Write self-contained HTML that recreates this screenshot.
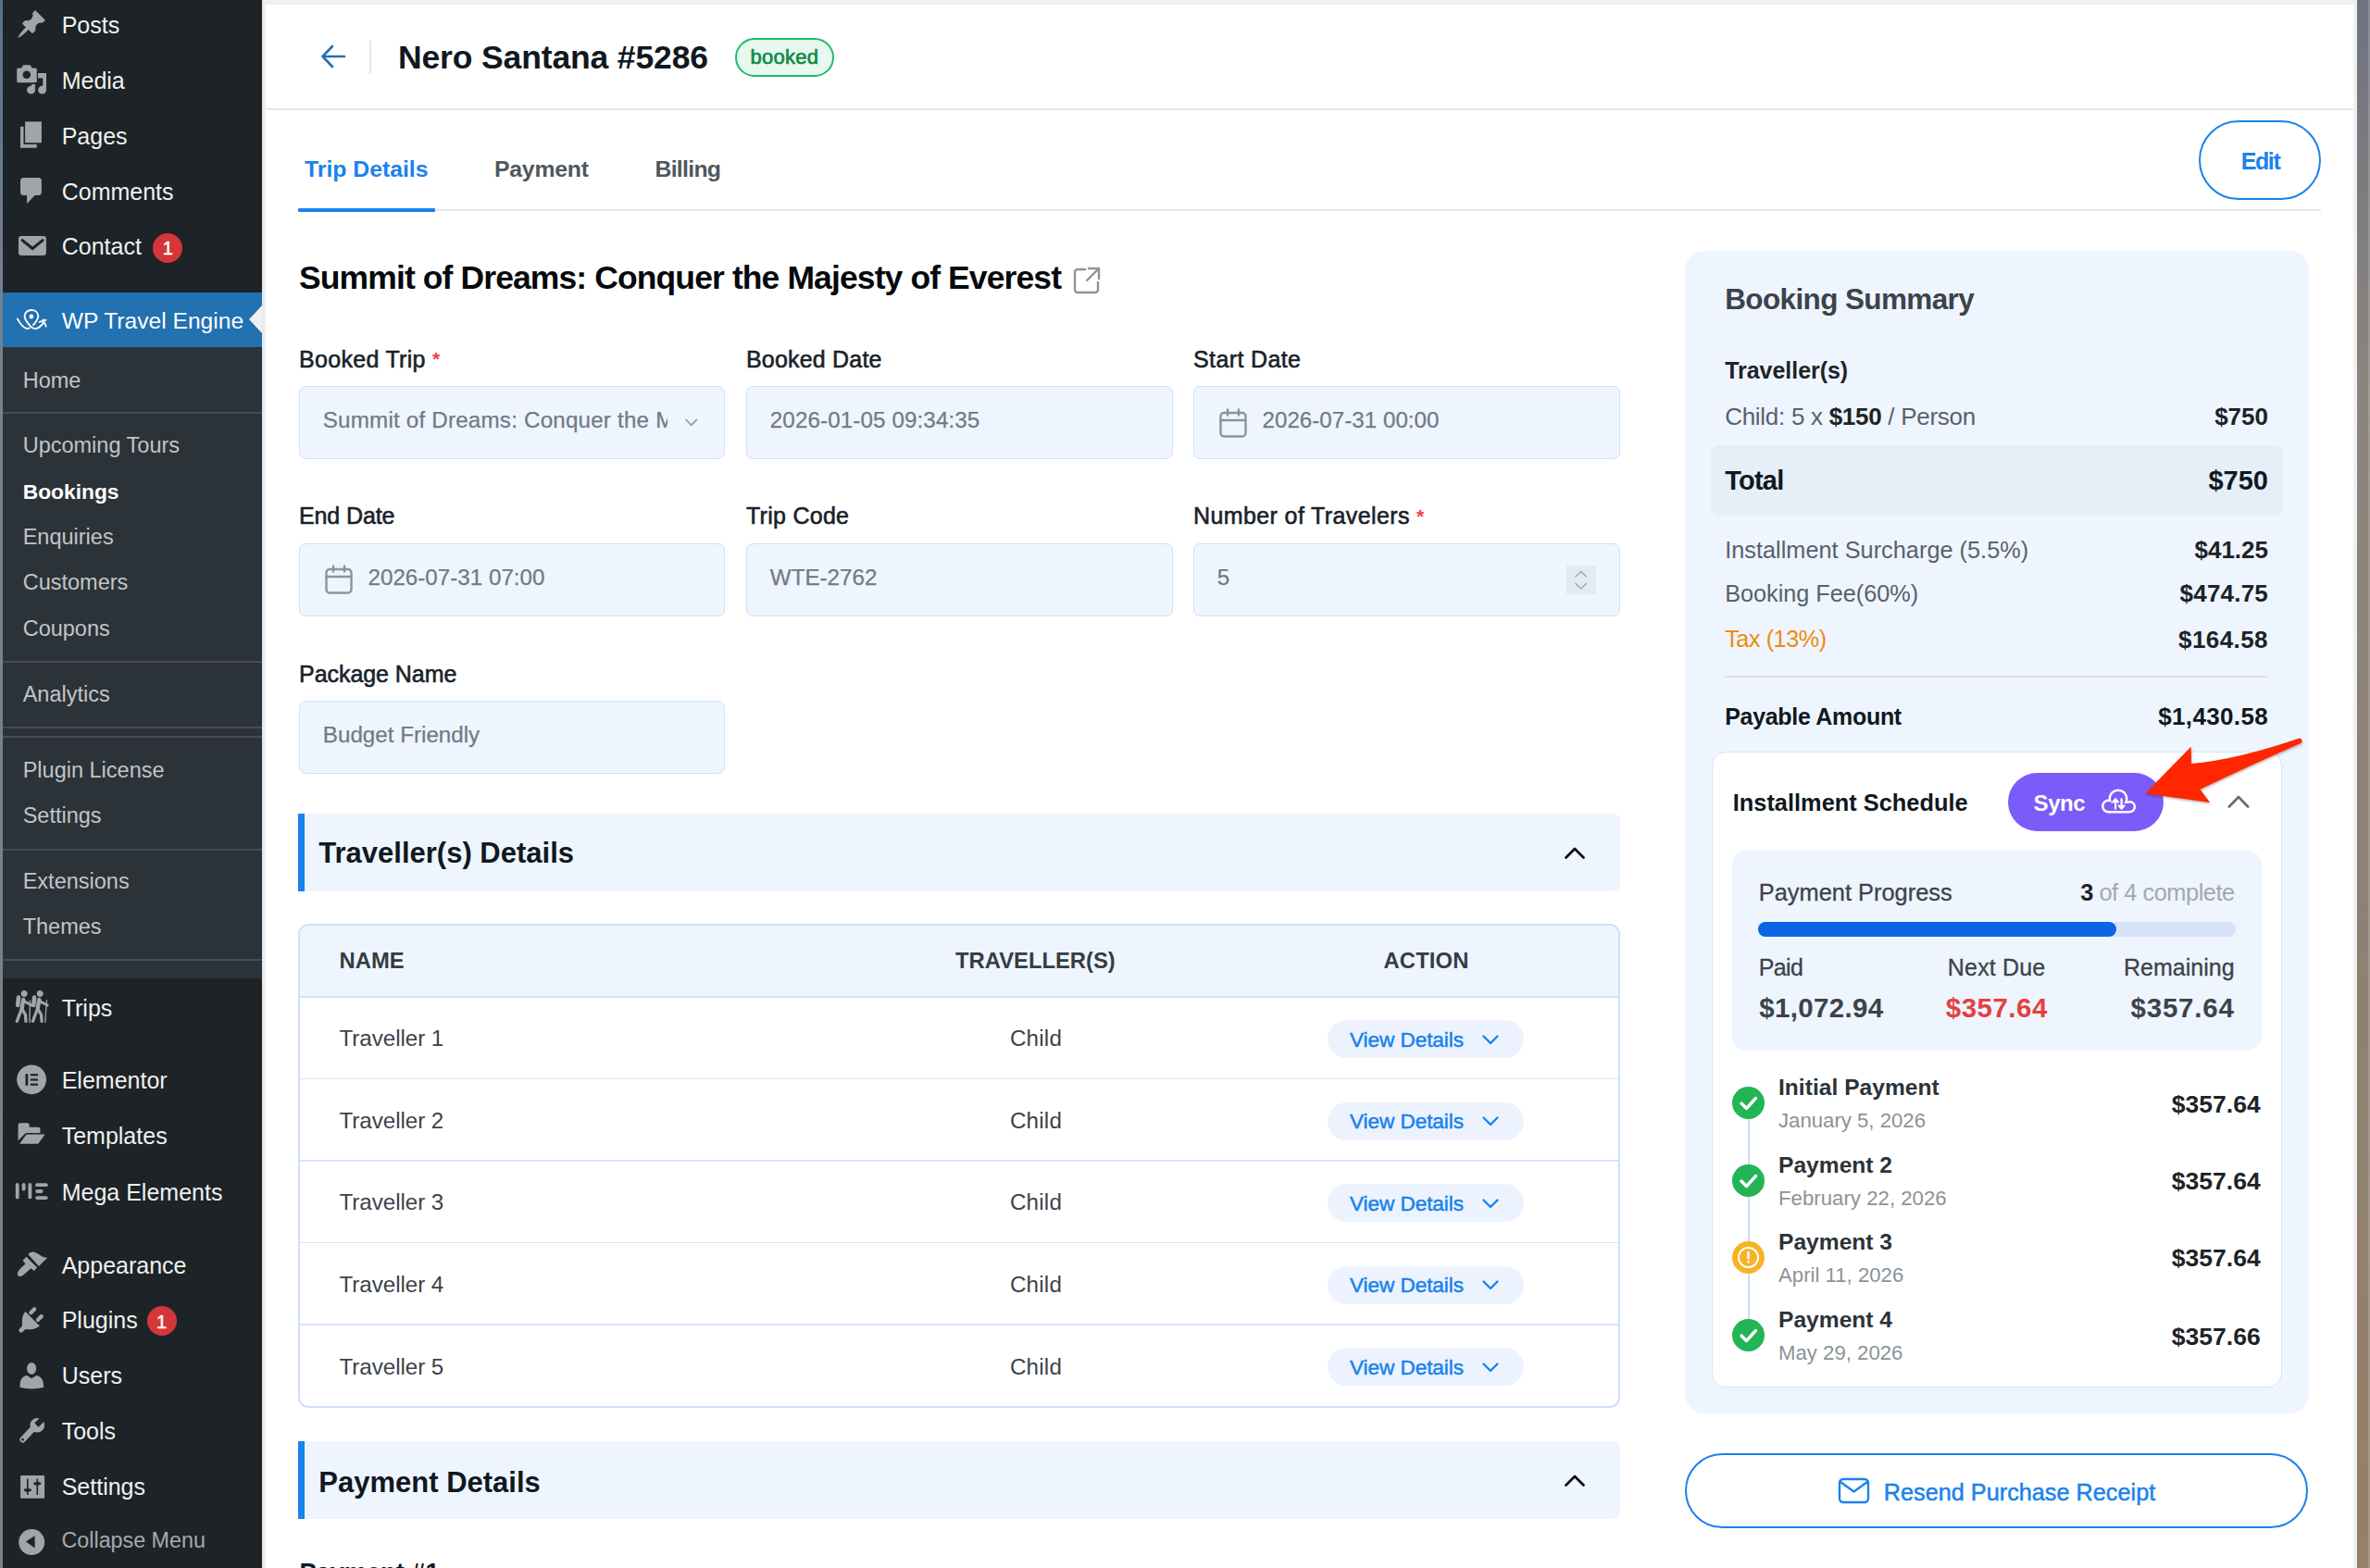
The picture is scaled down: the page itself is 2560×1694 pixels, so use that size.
<!DOCTYPE html>
<html><head><meta charset="utf-8"><title>Booking</title>
<style>
html,body{margin:0;padding:0;}
body{width:2560px;height:1694px;overflow:hidden;position:relative;background:#f0f0f1;font-family:"Liberation Sans", sans-serif;-webkit-font-smoothing:antialiased;}
.t{position:absolute;white-space:nowrap;line-height:1;}
.r{position:absolute;}
b{font-weight:700;}
</style></head><body>
<div class="r" style="left:0px;top:0px;width:3px;height:1694px;background:linear-gradient(#5a708a,#74808e 18%,#7a8088)"></div>
<div class="r" style="left:3px;top:0px;width:280px;height:1694px;background:#1d2327"></div>
<div class="r" style="left:283px;top:0px;width:4px;height:1694px;background:linear-gradient(90deg,#e6e6e7,#f3f3f4)"></div>
<div class="r" style="left:2546px;top:0px;width:14px;height:1694px;background:linear-gradient(#6f7382 0%,#7b7a7e 10%,#8a857e 25%,#8d8276 50%,#958069 100%)"></div>
<div class="r" style="left:2558px;top:0px;width:2px;height:1694px;background:rgba(255,255,255,.18)"></div>
<div class="r" style="left:287px;top:5px;width:2255px;height:1689px;background:#fff"></div>
<div class="r" style="left:3px;top:316px;width:280px;height:59px;background:#2271b1"></div>
<svg class="r" style="left:269px;top:330px;" width="14" height="30" viewBox="0 0 14 30"><polygon points="14,0 0,15 14,30" fill="#f0f0f1"/></svg>
<div class="r" style="left:3px;top:375px;width:280px;height:682px;background:#2c3338"></div>
<div class="r" style="left:3px;top:445px;width:280px;height:2px;background:#464c52"></div>
<div class="r" style="left:3px;top:714px;width:280px;height:2px;background:#464c52"></div>
<div class="r" style="left:3px;top:785px;width:280px;height:2px;background:#464c52"></div>
<div class="r" style="left:3px;top:795px;width:280px;height:2px;background:#464c52"></div>
<div class="r" style="left:3px;top:917px;width:280px;height:2px;background:#464c52"></div>
<div class="r" style="left:3px;top:1036px;width:280px;height:2px;background:#464c52"></div>
<div class="t" style="top:14.94px;font-size:25px;font-weight:400;color:#f0f0f1;left:66.70px;">Posts</div>
<div class="t" style="top:74.64px;font-size:25px;font-weight:400;color:#f0f0f1;left:66.70px;">Media</div>
<div class="t" style="top:135.44px;font-size:25px;font-weight:400;color:#f0f0f1;left:66.70px;">Pages</div>
<div class="t" style="top:194.84px;font-size:25px;font-weight:400;color:#f0f0f1;left:66.70px;">Comments</div>
<div class="t" style="top:254.24px;font-size:25px;font-weight:400;color:#f0f0f1;left:66.70px;">Contact</div>
<div class="t" style="top:334.58px;font-size:24.6px;font-weight:400;color:#fff;left:66.70px;">WP Travel Engine</div>
<div class="t" style="top:399.51px;font-size:23.5px;font-weight:400;color:#c3c4c7;left:24.70px;">Home</div>
<div class="t" style="top:470.31px;font-size:23.5px;font-weight:400;color:#c3c4c7;left:24.70px;">Upcoming Tours</div>
<div class="t" style="top:520.20px;font-size:22.8px;font-weight:700;color:#fff;left:24.70px;">Bookings</div>
<div class="t" style="top:568.91px;font-size:23.5px;font-weight:400;color:#c3c4c7;left:24.70px;">Enquiries</div>
<div class="t" style="top:618.21px;font-size:23.5px;font-weight:400;color:#c3c4c7;left:24.70px;">Customers</div>
<div class="t" style="top:667.51px;font-size:23.5px;font-weight:400;color:#c3c4c7;left:24.70px;">Coupons</div>
<div class="t" style="top:738.61px;font-size:23.5px;font-weight:400;color:#c3c4c7;left:24.70px;">Analytics</div>
<div class="t" style="top:820.61px;font-size:23.5px;font-weight:400;color:#c3c4c7;left:24.70px;">Plugin License</div>
<div class="t" style="top:870.11px;font-size:23.5px;font-weight:400;color:#c3c4c7;left:24.70px;">Settings</div>
<div class="t" style="top:940.71px;font-size:23.5px;font-weight:400;color:#c3c4c7;left:24.70px;">Extensions</div>
<div class="t" style="top:990.11px;font-size:23.5px;font-weight:400;color:#c3c4c7;left:24.70px;">Themes</div>
<div class="t" style="top:1076.94px;font-size:25px;font-weight:400;color:#f0f0f1;left:66.70px;">Trips</div>
<div class="t" style="top:1155.44px;font-size:25px;font-weight:400;color:#f0f0f1;left:66.70px;">Elementor</div>
<div class="t" style="top:1215.04px;font-size:25px;font-weight:400;color:#f0f0f1;left:66.70px;">Templates</div>
<div class="t" style="top:1275.84px;font-size:25px;font-weight:400;color:#f0f0f1;left:66.70px;">Mega Elements</div>
<div class="t" style="top:1354.84px;font-size:25px;font-weight:400;color:#f0f0f1;left:66.70px;">Appearance</div>
<div class="t" style="top:1414.44px;font-size:25px;font-weight:400;color:#f0f0f1;left:66.70px;">Plugins</div>
<div class="t" style="top:1474.14px;font-size:25px;font-weight:400;color:#f0f0f1;left:66.70px;">Users</div>
<div class="t" style="top:1533.84px;font-size:25px;font-weight:400;color:#f0f0f1;left:66.70px;">Tools</div>
<div class="t" style="top:1594.44px;font-size:25px;font-weight:400;color:#f0f0f1;left:66.70px;">Settings</div>
<div class="t" style="top:1653.48px;font-size:23.3px;font-weight:400;color:#a7aaad;left:66.50px;">Collapse Menu</div>
<div class="r" style="left:165.4px;top:251.5px;width:32.0px;height:32.0px;background:#d63638;border-radius:50%"></div>
<div class="t" style="top:258.07px;font-size:20px;font-weight:400;color:#fff;left:-418.60px;width:1200px;text-align:center;-webkit-text-stroke:0.5px #fff;">1</div>
<div class="r" style="left:158.5px;top:1411.4px;width:32.0px;height:32.0px;background:#d63638;border-radius:50%"></div>
<div class="t" style="top:1417.97px;font-size:20px;font-weight:400;color:#fff;left:-425.50px;width:1200px;text-align:center;-webkit-text-stroke:0.5px #fff;">1</div>
<svg class="r" style="left:0px;top:5px" width="60" height="43" viewBox="0 5 60 43"><path fill="#a0a5aa" d="M38.1 11.1 L49 21.9 L45.4 24.8 Q40.5 23.5 38.3 29.2 L38.3 33.1 L34.9 36.3 L30.6 32.1 Q25 38.5 19.2 41.2 Q21.5 35.5 27.9 29.6 L23.9 25.4 L27.2 21.9 Q33.5 24 35.6 16.5 L34.9 14.3 Z"/></svg>
<svg class="r" style="left:0px;top:66px" width="60" height="38" viewBox="0 66 60 38"><g fill="#a0a5aa"><path d="M19.8 73.6 H23.1 L25.2 70.2 H32.6 L34.6 73.6 H38.2 A1.6 1.6 0 0 1 39.8 75.2 V87.6 A1.6 1.6 0 0 1 38.2 89.2 H19.8 A1.6 1.6 0 0 1 18.2 87.6 V75.2 A1.6 1.6 0 0 1 19.8 73.6 Z"/><rect x="41" y="79" width="9" height="5.4"/><rect x="46.3" y="79" width="3.7" height="18"/><circle cx="45.6" cy="97.2" r="4.4"/><rect x="34.1" y="91" width="3.8" height="6"/><circle cx="33.5" cy="97.2" r="4.4"/></g><circle cx="28.8" cy="80.8" r="4.3" fill="#1d2327"/></svg>
<svg class="r" style="left:0px;top:128px" width="60" height="35" viewBox="0 128 60 35"><g fill="#a0a5aa"><rect x="27.1" y="131.4" width="17.8" height="22.9"/><path d="M22 136.8 H25.5 V156 H39.7 V159.8 H22 Z"/></g></svg>
<svg class="r" style="left:0px;top:188px" width="60" height="36" viewBox="0 188 60 36"><path fill="#a0a5aa" d="M25.5 192 H41.4 A3.5 3.5 0 0 1 44.9 195.5 V207.6 A3.5 3.5 0 0 1 41.4 211.1 H37.7 L29.1 220 V211.1 H25.5 A3.5 3.5 0 0 1 22 207.6 V195.5 A3.5 3.5 0 0 1 25.5 192 Z"/></svg>
<svg class="r" style="left:0px;top:250px" width="60" height="30" viewBox="0 250 60 30"><rect x="20" y="255" width="29.9" height="21.1" rx="3" fill="#a0a5aa"/><path d="M24.2 259.6 L35.1 268.5 L46.1 259.6" fill="none" stroke="#1d2327" stroke-width="3.1" stroke-linecap="round" stroke-linejoin="miter"/></svg>
<svg class="r" style="left:0px;top:330px" width="60" height="32" viewBox="0 330 60 32"><g fill="none" stroke="#fff" stroke-width="1.9" stroke-linecap="round" stroke-linejoin="round"><path d="M36 351 C39.2 347.5 41.4 344.8 41.3 341.4 C41.1 337.3 37.8 335 33.9 335 C30 335 26.6 337.5 26.6 341.6 C26.6 345.5 30 349.3 33 352.6 C35 354.6 37.2 355.6 39.4 354.9 C42.3 354 45 351.3 47.3 348.3"/><path d="M18.9 344.6 C21.2 348.6 24.5 353.4 28 354.7 C29.4 355.2 30.6 355 31.7 354.5"/><path d="M42.6 347.9 L49.6 345.6 M46.6 345.4 L49.8 352.6" stroke-width="1.7"/></g><circle cx="33.9" cy="342" r="2.4" fill="#fff"/></svg>
<svg class="r" style="left:0px;top:1066px" width="60" height="44" viewBox="0 1066 60 44"><g fill="#a0a5aa" stroke="#a0a5aa" stroke-linecap="round" stroke-linejoin="round"><circle cx="26.1" cy="1073.5" r="3.1"/><line x1="20.0" y1="1077.6" x2="19.2" y2="1086" stroke-width="4.6"/><line x1="25.2" y1="1080" x2="23.6" y2="1090" stroke-width="4.4"/><line x1="26.8" y1="1082.2" x2="34.1" y2="1086" stroke-width="3"/><line x1="22.8" y1="1091.5" x2="18.3" y2="1103.3" stroke-width="3.3"/><polyline points="24.4,1091.2 27.4,1096.2 28.0,1103.3" fill="none" stroke-width="3.3"/><circle cx="43.2" cy="1073.5" r="3.1"/><line x1="37.1" y1="1077.6" x2="36.3" y2="1086" stroke-width="4.6"/><line x1="42.3" y1="1080" x2="40.7" y2="1090" stroke-width="4.4"/><line x1="43.9" y1="1082.2" x2="51.2" y2="1086" stroke-width="3"/><line x1="39.9" y1="1091.5" x2="35.4" y2="1103.3" stroke-width="3.3"/><polyline points="41.5,1091.2 44.5,1096.2 45.1,1103.3" fill="none" stroke-width="3.3"/><line x1="32.4" y1="1081.3" x2="32" y2="1104.4" stroke-width="1.4"/><line x1="50.5" y1="1080.6" x2="48.8" y2="1104.4" stroke-width="1.3"/></g></svg>
<svg class="r" style="left:0px;top:1148px" width="60" height="37" viewBox="0 1148 60 37"><circle cx="34.1" cy="1166.3" r="15.9" fill="#a0a5aa"/><g fill="#1d2327"><rect x="27.5" y="1160.1" width="2.8" height="12.7"/><rect x="32.8" y="1160.1" width="8.1" height="2.2"/><rect x="32.8" y="1165.4" width="8.1" height="2.2"/><rect x="32.8" y="1170.6" width="8.1" height="2.2"/></g></svg>
<svg class="r" style="left:0px;top:1210px" width="60" height="30" viewBox="0 1210 60 30"><g fill="#a0a5aa"><path d="M19.6 1232.2 V1215.6 A2.3 2.3 0 0 1 21.9 1213.3 H29.4 A2.3 2.3 0 0 1 31.7 1215.6 V1217.8 H41.2 A2.3 2.3 0 0 1 43.5 1220.1 V1223.9 H29 A3 3 0 0 0 26.8 1225 Z"/><path d="M29.8 1225.5 H48.6 L42 1234.8 A2.2 2.2 0 0 1 40.2 1235.7 H21.2 L27.8 1226.4 A2.2 2.2 0 0 1 29.8 1225.5 Z"/></g></svg>
<svg class="r" style="left:0px;top:1274px" width="60" height="26" viewBox="0 1274 60 26"><g stroke="#a0a5aa" stroke-linecap="round" stroke-width="3.8"><line x1="18.7" y1="1280" x2="18.7" y2="1293.4"/><line x1="25.6" y1="1280" x2="25.6" y2="1284.6"/><line x1="32.4" y1="1280" x2="32.4" y2="1293.4"/><line x1="40.1" y1="1280.2" x2="49.8" y2="1280.2"/><line x1="40.1" y1="1287" x2="44.7" y2="1287"/><line x1="40.1" y1="1294.1" x2="49.8" y2="1294.1"/></g></svg>
<svg class="r" style="left:0px;top:1348px" width="60" height="34" viewBox="0 1348 60 34"><g fill="#a0a5aa"><path d="M30.3 1355.1 Q32.5 1351.6 36.5 1352.6 Q40 1353.8 44 1356.6 Q47.5 1358.9 51.3 1358.8 L41.9 1367.9 Z"/><path d="M28.5 1357.8 L40.2 1369.5 L36.6 1373.1 L33.6 1370.2 Q31.6 1371.5 27.6 1375.4 Q22 1380.5 19.5 1378.2 Q17.2 1375.8 22 1370.5 Q26 1366.6 27.4 1365.4 L24.6 1361.7 Z"/></g></svg>
<svg class="r" style="left:0px;top:1408px" width="60" height="34" viewBox="0 1408 60 34"><g fill="#a0a5aa"><path d="M27.5 1417 L42.9 1432.6 Q38 1436.6 31.5 1436.2 L27.6 1436 L24.6 1438.8 A2.4 2.4 0 0 1 21.1 1435.4 L23.9 1432.4 L24 1428 Q23.7 1420.5 27.5 1417 Z"/><rect x="33.2" y="1411.4" width="4.2" height="9.6" rx="2" transform="rotate(45 35.3 1416.2)"/><rect x="40.8" y="1419.2" width="4.2" height="9.6" rx="2" transform="rotate(45 42.9 1424)"/></g></svg>
<svg class="r" style="left:0px;top:1468px" width="60" height="36" viewBox="0 1468 60 36"><g fill="#a0a5aa"><ellipse cx="34.1" cy="1478.4" rx="5" ry="6.4"/><path d="M21.6 1498.8 C21 1490 24.8 1486.6 29.2 1486 L34.1 1489.2 L39.2 1486 C43.5 1486.6 47.4 1490 47.1 1498.8 C39 1501 30 1501 21.6 1498.8 Z"/></g></svg>
<svg class="r" style="left:0px;top:1528px" width="60" height="34" viewBox="0 1528 60 34"><circle cx="40.3" cy="1539.7" r="7.8" fill="#a0a5aa"/><path fill="#1d2327" d="M37.3 1537.6 L41.6 1541.7 L50.5 1532.8 L46.2 1528.6 Z"/><line x1="35.3" y1="1543.8" x2="24.6" y2="1555.2" stroke="#a0a5aa" stroke-width="6.5" stroke-linecap="round"/><circle cx="24.5" cy="1555.3" r="1.4" fill="#1d2327"/></svg>
<svg class="r" style="left:0px;top:1590px" width="60" height="32" viewBox="0 1590 60 32"><rect x="22.1" y="1594" width="26" height="24.7" rx="1.2" fill="#a0a5aa"/><g fill="#1d2327"><rect x="29" y="1597.6" width="1.6" height="17.4"/><ellipse cx="29.8" cy="1609.7" rx="4.2" ry="1.8"/><rect x="39.5" y="1597.6" width="1.6" height="17.4"/><ellipse cx="40.3" cy="1602.8" rx="4.2" ry="1.8"/></g></svg>
<svg class="r" style="left:0px;top:1650px" width="60" height="32" viewBox="0 1650 60 32"><circle cx="34.2" cy="1666.1" r="14" fill="#a0a5aa"/><polygon points="27.9,1665.6 37.6,1659.2 37.6,1672.4" fill="#1d2327"/></svg>
<svg class="r" style="left:346px;top:47px;" width="28" height="28" viewBox="0 0 28 28"><g fill="none" stroke="#2271b1" stroke-width="2.6" stroke-linecap="round" stroke-linejoin="round"><path d="M26 14 H3"/><path d="M13 3 L2.5 14 L13 25"/></g></svg>
<div class="r" style="left:399px;top:44px;width:2px;height:35px;background:#e2e4e7"></div>
<div class="t" style="top:44.95px;font-size:35.5px;font-weight:700;color:#101820;left:430.00px;letter-spacing:-0.143px;">Nero Santana #5286</div>
<div class="r" style="left:794px;top:40.5px;width:106.5px;height:42.0px;border:2px solid #1fbb6b;background:#e7f8ef;border-radius:21px;box-sizing:border-box"></div>
<div class="t" style="top:51.18px;font-size:22px;font-weight:400;color:#0d8a47;left:247.30px;width:1200px;text-align:center;letter-spacing:0.263px;-webkit-text-stroke:0.65px #0d8a47;">booked</div>
<div class="r" style="left:287px;top:117px;width:2255px;height:2px;background:#e6e8eb"></div>
<div class="t" style="top:170.71px;font-size:24.8px;font-weight:700;color:#1a82ec;left:329.00px;letter-spacing:-0.016px;">Trip Details</div>
<div class="t" style="top:170.71px;font-size:24.8px;font-weight:700;color:#50575e;left:534.00px;letter-spacing:-0.229px;">Payment</div>
<div class="t" style="top:170.71px;font-size:24.8px;font-weight:700;color:#50575e;left:707.50px;letter-spacing:-0.711px;">Billing</div>
<div class="r" style="left:322px;top:226px;width:2185px;height:2px;background:#e6e8eb"></div>
<div class="r" style="left:322px;top:225px;width:148px;height:4px;background:#1a82ec;border-radius:1px"></div>
<div class="r" style="left:2375px;top:130px;width:132px;height:86px;border:2px solid #1a82ec;border-radius:43px;box-sizing:border-box"></div>
<div class="t" style="top:161.84px;font-size:25px;font-weight:700;color:#1a82ec;left:1841.50px;width:1200px;text-align:center;letter-spacing:-1.406px;">Edit</div>
<div class="t" style="top:282.55px;font-size:35.5px;font-weight:700;color:#06090c;left:323.00px;letter-spacing:-0.894px;">Summit of Dreams: Conquer the Majesty of Everest</div>
<svg class="r" style="left:1159px;top:287px;" width="31" height="31" viewBox="0 0 31 31"><g fill="none" stroke="#8c9599" stroke-width="2.4" stroke-linecap="round" stroke-linejoin="round"><path d="M13 4 H5 a3 3 0 0 0 -3 3 V26 a3 3 0 0 0 3 3 H24 a3 3 0 0 0 3 -3 V18"/><path d="M17 3 H28 V14"/><path d="M28 3 L15 16"/></g></svg>
<div class="t" style="top:375.64px;font-size:25px;font-weight:400;color:#1a1f2b;left:323.00px;letter-spacing:0.308px;-webkit-text-stroke:0.6px #1a1f2b;">Booked Trip</div>
<div class="t" style="top:377.02px;font-size:21px;font-weight:700;color:#ef3e3c;left:467.00px;">*</div>
<div class="t" style="top:375.64px;font-size:25px;font-weight:400;color:#1a1f2b;left:806.00px;letter-spacing:0.195px;-webkit-text-stroke:0.6px #1a1f2b;">Booked Date</div>
<div class="t" style="top:375.64px;font-size:25px;font-weight:400;color:#1a1f2b;left:1289.00px;letter-spacing:0.382px;-webkit-text-stroke:0.6px #1a1f2b;">Start Date</div>
<div class="r" style="left:322.5px;top:417px;width:460.5px;height:78.5px;background:#eef5ff;border:1.5px solid #cfe0f8;border-radius:7px;box-sizing:border-box"></div>
<div class="t" style="top:442.31px;font-size:24.2px;font-weight:400;color:#6f7b83;left:348.80px;letter-spacing:0.193px;-webkit-text-stroke:0.25px #6f7b83;width:372.3px;clip-path:inset(-6px 0px -6px -6px);">Summit of Dreams: Conquer the M</div>
<svg class="r" style="left:738px;top:450px;" width="18" height="12" viewBox="0 0 18 12"><path d="M3 3.4 L8.75 9.4 L14.5 3.4" fill="none" stroke="#959da4" stroke-width="1.6" stroke-linecap="round" stroke-linejoin="round"/></svg>
<div class="r" style="left:805.5px;top:417px;width:461.0px;height:78.5px;background:#eef5ff;border:1.5px solid #cfe0f8;border-radius:7px;box-sizing:border-box"></div>
<div class="t" style="top:442.31px;font-size:24.2px;font-weight:400;color:#6f7b83;left:831.80px;letter-spacing:0.105px;-webkit-text-stroke:0.25px #6f7b83;">2026-01-05 09:34:35</div>
<div class="r" style="left:1288.5px;top:417px;width:461.0px;height:78.5px;background:#eef5ff;border:1.5px solid #cfe0f8;border-radius:7px;box-sizing:border-box"></div>
<div class="t" style="top:442.31px;font-size:24.2px;font-weight:400;color:#6f7b83;left:1363.50px;-webkit-text-stroke:0.25px #6f7b83;">2026-07-31 00:00</div>
<div class="t" style="top:545.24px;font-size:25px;font-weight:400;color:#1a1f2b;left:323.00px;letter-spacing:-0.121px;-webkit-text-stroke:0.6px #1a1f2b;">End Date</div>
<div class="t" style="top:545.24px;font-size:25px;font-weight:400;color:#1a1f2b;left:806.00px;letter-spacing:0.270px;-webkit-text-stroke:0.6px #1a1f2b;">Trip Code</div>
<div class="t" style="top:545.24px;font-size:25px;font-weight:400;color:#1a1f2b;left:1289.00px;letter-spacing:0.391px;-webkit-text-stroke:0.6px #1a1f2b;">Number of Travelers</div>
<div class="t" style="top:546.62px;font-size:21px;font-weight:700;color:#ef3e3c;left:1530.00px;">*</div>
<div class="r" style="left:322.5px;top:586.5px;width:460.5px;height:79.0px;background:#eef5ff;border:1.5px solid #cfe0f8;border-radius:7px;box-sizing:border-box"></div>
<div class="t" style="top:611.81px;font-size:24.2px;font-weight:400;color:#6f7b83;left:397.50px;-webkit-text-stroke:0.25px #6f7b83;">2026-07-31 07:00</div>
<div class="r" style="left:805.5px;top:586.5px;width:461.0px;height:79.0px;background:#eef5ff;border:1.5px solid #cfe0f8;border-radius:7px;box-sizing:border-box"></div>
<div class="t" style="top:611.81px;font-size:24.2px;font-weight:400;color:#6f7b83;left:831.80px;-webkit-text-stroke:0.25px #6f7b83;">WTE-2762</div>
<div class="r" style="left:1288.5px;top:586.5px;width:461.0px;height:79.0px;background:#eef5ff;border:1.5px solid #cfe0f8;border-radius:7px;box-sizing:border-box"></div>
<div class="t" style="top:611.81px;font-size:24.2px;font-weight:400;color:#6f7b83;left:1314.80px;-webkit-text-stroke:0.25px #6f7b83;">5</div>
<svg class="r" style="left:1692px;top:610.5px;background:#e4eaf3" width="31.5" height="31.5" viewBox="0 0 31.5 31.5"><g fill="none" stroke="#a3abb3" stroke-width="1.7" stroke-linecap="round" stroke-linejoin="round"><path d="M10 12 L15.75 6.5 L21.5 12"/><path d="M10 19.5 L15.75 25 L21.5 19.5"/></g></svg>
<div class="t" style="top:715.84px;font-size:25px;font-weight:400;color:#1a1f2b;left:323.00px;letter-spacing:-0.049px;-webkit-text-stroke:0.6px #1a1f2b;">Package Name</div>
<div class="r" style="left:322.5px;top:756.5px;width:460.5px;height:79.0px;background:#eef5ff;border:1.5px solid #cfe0f8;border-radius:7px;box-sizing:border-box"></div>
<div class="t" style="top:781.81px;font-size:24.2px;font-weight:400;color:#6f7b83;left:348.80px;-webkit-text-stroke:0.25px #6f7b83;">Budget Friendly</div>
<svg class="r" style="left:1316.5px;top:441px;" width="30" height="32" viewBox="0 0 30 32"><g fill="none" stroke="#8c959c" stroke-width="2.4" stroke-linecap="round"><rect x="1.5" y="5" width="27" height="25.5" rx="3.5"/><path d="M1.5 13 H28.5"/><path d="M9 1.5 V7.5 M21 1.5 V7.5"/></g></svg>
<svg class="r" style="left:350.5px;top:610px;" width="30" height="32" viewBox="0 0 30 32"><g fill="none" stroke="#8c959c" stroke-width="2.4" stroke-linecap="round"><rect x="1.5" y="5" width="27" height="25.5" rx="3.5"/><path d="M1.5 13 H28.5"/><path d="M9 1.5 V7.5 M21 1.5 V7.5"/></g></svg>
<div class="r" style="left:322px;top:878.5px;width:1427.5px;height:84.0px;background:#eef5ff;border-radius:0 8px 8px 0"></div>
<div class="r" style="left:322px;top:878.5px;width:6.5px;height:84.0px;background:#1a82ec"></div>
<div class="t" style="top:905.56px;font-size:31px;font-weight:700;color:#101820;left:344.30px;">Traveller(s) Details</div>
<svg class="r" style="left:1688px;top:912px;display:none" width="26" height="16" viewBox="0 0 26 16"></svg>
<svg class="r" style="left:1689px;top:913.5px;" width="24" height="15" viewBox="0 0 24 15"><path d="M2.5 12.5 L12 3 L21.5 12.5" fill="none" stroke="#0b0f12" stroke-width="2.8" stroke-linecap="round" stroke-linejoin="round"/></svg>
<div class="r" style="left:322px;top:998px;width:1427.5px;height:523px;border:2px solid #d0e0f7;border-radius:11px;box-sizing:border-box;background:#fff"></div>
<div class="r" style="left:323.5px;top:999.5px;width:1424.5px;height:76.5px;background:#eef5ff;border-radius:10px 10px 0 0"></div>
<div class="r" style="left:323.5px;top:1076px;width:1424.5px;height:1.5px;background:#d3e2f8"></div>
<div class="t" style="top:1026.45px;font-size:23.8px;font-weight:700;color:#353c43;left:366.50px;letter-spacing:0.041px;">NAME</div>
<div class="t" style="top:1026.45px;font-size:23.8px;font-weight:700;color:#353c43;left:518.40px;width:1200px;text-align:center;letter-spacing:-0.005px;">TRAVELLER(S)</div>
<div class="t" style="top:1026.45px;font-size:23.8px;font-weight:700;color:#353c43;left:940.50px;width:1200px;text-align:center;letter-spacing:0.136px;">ACTION</div>
<div class="r" style="left:323.5px;top:1164.5px;width:1424.5px;height:1.5px;background:#d7e5f8"></div>
<div class="t" style="top:1110.31px;font-size:24.2px;font-weight:400;color:#3c434a;left:366.50px;letter-spacing:-0.056px;">Traveller 1</div>
<div class="t" style="top:1110.31px;font-size:24.2px;font-weight:400;color:#3c434a;left:519.00px;width:1200px;text-align:center;letter-spacing:0.219px;">Child</div>
<div class="r" style="left:1434.4px;top:1102.1px;width:211.5999999999999px;height:41.0px;background:#ecf3fe;border-radius:21px"></div>
<div class="t" style="top:1112.67px;font-size:22.6px;font-weight:400;color:#1a82ec;left:1458.00px;letter-spacing:-0.082px;-webkit-text-stroke:0.5px #1a82ec;">View Details</div>
<svg class="r" style="left:1600px;top:1116.6px;" width="20" height="13" viewBox="0 0 20 13"><path d="M2.5 2.5 L10 10 L17.5 2.5" fill="none" stroke="#1a82ec" stroke-width="2.4" stroke-linecap="round" stroke-linejoin="round"/></svg>
<div class="r" style="left:323.5px;top:1253.05px;width:1424.5px;height:1.5px;background:#d7e5f8"></div>
<div class="t" style="top:1198.86px;font-size:24.2px;font-weight:400;color:#3c434a;left:366.50px;letter-spacing:-0.056px;">Traveller 2</div>
<div class="t" style="top:1198.86px;font-size:24.2px;font-weight:400;color:#3c434a;left:519.00px;width:1200px;text-align:center;letter-spacing:0.219px;">Child</div>
<div class="r" style="left:1434.4px;top:1190.6499999999999px;width:211.5999999999999px;height:41.0px;background:#ecf3fe;border-radius:21px"></div>
<div class="t" style="top:1201.22px;font-size:22.6px;font-weight:400;color:#1a82ec;left:1458.00px;letter-spacing:-0.082px;-webkit-text-stroke:0.5px #1a82ec;">View Details</div>
<svg class="r" style="left:1600px;top:1205.1499999999999px;" width="20" height="13" viewBox="0 0 20 13"><path d="M2.5 2.5 L10 10 L17.5 2.5" fill="none" stroke="#1a82ec" stroke-width="2.4" stroke-linecap="round" stroke-linejoin="round"/></svg>
<div class="r" style="left:323.5px;top:1341.6px;width:1424.5px;height:1.5px;background:#d7e5f8"></div>
<div class="t" style="top:1287.41px;font-size:24.2px;font-weight:400;color:#3c434a;left:366.50px;letter-spacing:-0.056px;">Traveller 3</div>
<div class="t" style="top:1287.41px;font-size:24.2px;font-weight:400;color:#3c434a;left:519.00px;width:1200px;text-align:center;letter-spacing:0.219px;">Child</div>
<div class="r" style="left:1434.4px;top:1279.1999999999998px;width:211.5999999999999px;height:41.0px;background:#ecf3fe;border-radius:21px"></div>
<div class="t" style="top:1289.77px;font-size:22.6px;font-weight:400;color:#1a82ec;left:1458.00px;letter-spacing:-0.082px;-webkit-text-stroke:0.5px #1a82ec;">View Details</div>
<svg class="r" style="left:1600px;top:1293.6999999999998px;" width="20" height="13" viewBox="0 0 20 13"><path d="M2.5 2.5 L10 10 L17.5 2.5" fill="none" stroke="#1a82ec" stroke-width="2.4" stroke-linecap="round" stroke-linejoin="round"/></svg>
<div class="r" style="left:323.5px;top:1430.15px;width:1424.5px;height:1.5px;background:#d7e5f8"></div>
<div class="t" style="top:1375.96px;font-size:24.2px;font-weight:400;color:#3c434a;left:366.50px;letter-spacing:-0.056px;">Traveller 4</div>
<div class="t" style="top:1375.96px;font-size:24.2px;font-weight:400;color:#3c434a;left:519.00px;width:1200px;text-align:center;letter-spacing:0.219px;">Child</div>
<div class="r" style="left:1434.4px;top:1367.75px;width:211.5999999999999px;height:41.0px;background:#ecf3fe;border-radius:21px"></div>
<div class="t" style="top:1378.32px;font-size:22.6px;font-weight:400;color:#1a82ec;left:1458.00px;letter-spacing:-0.082px;-webkit-text-stroke:0.5px #1a82ec;">View Details</div>
<svg class="r" style="left:1600px;top:1382.25px;" width="20" height="13" viewBox="0 0 20 13"><path d="M2.5 2.5 L10 10 L17.5 2.5" fill="none" stroke="#1a82ec" stroke-width="2.4" stroke-linecap="round" stroke-linejoin="round"/></svg>
<div class="t" style="top:1464.51px;font-size:24.2px;font-weight:400;color:#3c434a;left:366.50px;letter-spacing:-0.056px;">Traveller 5</div>
<div class="t" style="top:1464.51px;font-size:24.2px;font-weight:400;color:#3c434a;left:519.00px;width:1200px;text-align:center;letter-spacing:0.219px;">Child</div>
<div class="r" style="left:1434.4px;top:1456.3px;width:211.5999999999999px;height:41.0px;background:#ecf3fe;border-radius:21px"></div>
<div class="t" style="top:1466.87px;font-size:22.6px;font-weight:400;color:#1a82ec;left:1458.00px;letter-spacing:-0.082px;-webkit-text-stroke:0.5px #1a82ec;">View Details</div>
<svg class="r" style="left:1600px;top:1470.8px;" width="20" height="13" viewBox="0 0 20 13"><path d="M2.5 2.5 L10 10 L17.5 2.5" fill="none" stroke="#1a82ec" stroke-width="2.4" stroke-linecap="round" stroke-linejoin="round"/></svg>
<div class="r" style="left:322px;top:1557px;width:1427.5px;height:84px;background:#eef5ff;border-radius:0 8px 8px 0"></div>
<div class="r" style="left:322px;top:1557px;width:6.5px;height:84px;background:#1a82ec"></div>
<div class="t" style="top:1585.56px;font-size:31px;font-weight:700;color:#101820;left:344.30px;">Payment Details</div>
<svg class="r" style="left:1688px;top:912px;display:none" width="26" height="16" viewBox="0 0 26 16"></svg>
<svg class="r" style="left:1689px;top:1592px;" width="24" height="15" viewBox="0 0 24 15"><path d="M2.5 12.5 L12 3 L21.5 12.5" fill="none" stroke="#0b0f12" stroke-width="2.8" stroke-linecap="round" stroke-linejoin="round"/></svg>
<div class="t" style="top:1685.48px;font-size:27.2px;font-weight:700;color:#101820;left:323.50px;letter-spacing:-0.014px;">Payment #1</div>
<div class="r" style="left:1820px;top:270.5px;width:673.5px;height:1256.5px;background:#eef5ff;border-radius:21px"></div>
<div class="t" style="top:308.04px;font-size:31.5px;font-weight:700;color:#3c434a;left:1863.20px;letter-spacing:-0.629px;">Booking Summary</div>
<div class="t" style="top:388.34px;font-size:25px;font-weight:700;color:#1d2327;left:1863.20px;letter-spacing:-0.038px;">Traveller(s)</div>
<div class="t" style="top:436.99px;font-size:26px;font-weight:400;color:#58616a;left:1863.20px;letter-spacing:-0.283px;">Child: 5 x <b style="color:#1d2327">$150</b> / Person</div>
<div class="t" style="top:436.99px;font-size:26px;font-weight:700;color:#1d2327;right:110.00px;">$750</div>
<div class="r" style="left:1848px;top:480.5px;width:617.5px;height:76.5px;background:#e6eef8;border-radius:9px"></div>
<div class="t" style="top:504.95px;font-size:29px;font-weight:700;color:#101820;left:1863.20px;letter-spacing:-0.781px;">Total</div>
<div class="t" style="top:504.95px;font-size:29px;font-weight:700;color:#101820;right:110.00px;">$750</div>
<div class="t" style="top:581.58px;font-size:25.3px;font-weight:400;color:#58616a;left:1863.20px;letter-spacing:0.014px;">Installment Surcharge (5.5%)</div>
<div class="t" style="top:580.99px;font-size:26px;font-weight:700;color:#1d2327;right:110.00px;letter-spacing:-0.006px;">$41.25</div>
<div class="t" style="top:629.08px;font-size:25.3px;font-weight:400;color:#58616a;left:1863.20px;letter-spacing:-0.034px;">Booking Fee(60%)</div>
<div class="t" style="top:628.49px;font-size:26px;font-weight:700;color:#1d2327;right:110.00px;letter-spacing:0.203px;">$474.75</div>
<div class="t" style="top:678.28px;font-size:25.3px;font-weight:400;color:#f08a0c;left:1863.20px;letter-spacing:-0.484px;">Tax (13%)</div>
<div class="t" style="top:677.69px;font-size:26px;font-weight:700;color:#1d2327;right:110.00px;letter-spacing:0.419px;">$164.58</div>
<div class="r" style="left:1862px;top:730px;width:588px;height:2px;background:#dcdfe3"></div>
<div class="t" style="top:762.14px;font-size:25px;font-weight:700;color:#101820;left:1863.20px;letter-spacing:-0.304px;">Payable Amount</div>
<div class="t" style="top:761.29px;font-size:26px;font-weight:700;color:#101820;right:110.00px;letter-spacing:0.341px;">$1,430.58</div>
<div class="r" style="left:1849px;top:812px;width:615.5px;height:686.5px;background:#fff;border:1.5px solid #d5e3f7;border-radius:15px;box-sizing:border-box"></div>
<div class="t" style="top:854.70px;font-size:25.4px;font-weight:700;color:#101820;left:1871.70px;letter-spacing:0.002px;">Installment Schedule</div>
<div class="r" style="left:2168.5px;top:835px;width:168.5px;height:62.5px;background:#7b5cf9;border-radius:32px"></div>
<div class="t" style="top:856.48px;font-size:24px;font-weight:700;color:#fff;left:2196.60px;letter-spacing:-0.458px;">Sync</div>
<svg class="r" style="left:2268px;top:850px;" width="42" height="32" viewBox="0 0 42 32"><g fill="#fff"><circle cx="9.5" cy="21" r="7.5"/><circle cx="20" cy="13" r="10.5"/><circle cx="32.5" cy="21.7" r="6.6"/><rect x="9.5" y="18" width="23" height="10.5"/></g><g fill="#7b5cf9"><circle cx="9.5" cy="21" r="5"/><circle cx="20" cy="13" r="8"/><circle cx="32.5" cy="21.7" r="4.1"/><rect x="9.5" y="18" width="23" height="8"/></g><g fill="none" stroke="#fff" stroke-width="2.3" stroke-linecap="round" stroke-linejoin="round"><path d="M17.1 23.5 V13.5 M14.3 16.5 L17.1 13.5 L19.9 16.5"/><path d="M23.6 13.5 V23.5 M20.8 20.5 L23.6 23.5 L26.4 20.5"/></g></svg>
<svg class="r" style="left:2405px;top:857px;" width="26" height="19" viewBox="0 0 26 19"><path d="M2.8 14.5 L13 4 L23.2 14.5" fill="none" stroke="#646d75" stroke-width="2.6" stroke-linecap="round" stroke-linejoin="round"/></svg>
<div class="r" style="left:1871px;top:919px;width:571.5px;height:216px;background:#eef5ff;border-radius:15px"></div>
<div class="t" style="top:952.20px;font-size:25.4px;font-weight:400;color:#3c434a;left:1899.70px;letter-spacing:0.009px;-webkit-text-stroke:0.3px #3c434a;">Payment Progress</div>
<div class="t" style="top:952.20px;font-size:25.4px;font-weight:400;color:#a3a8ad;right:146.30px;letter-spacing:-0.473px;"><b style="color:#1d2327">3</b> of 4 complete</div>
<div class="r" style="left:1899px;top:995.5px;width:515.5px;height:16.5px;background:#d7e3f8;border-radius:9px"></div>
<div class="r" style="left:1899px;top:995.5px;width:387px;height:16.5px;background:#0c66e4;border-radius:9px"></div>
<div class="t" style="top:1032.64px;font-size:25px;font-weight:400;color:#3c434a;left:1899.70px;letter-spacing:-0.616px;-webkit-text-stroke:0.3px #3c434a;">Paid</div>
<div class="t" style="top:1032.64px;font-size:25px;font-weight:400;color:#3c434a;left:1556.60px;width:1200px;text-align:center;letter-spacing:0.154px;-webkit-text-stroke:0.3px #3c434a;">Next Due</div>
<div class="t" style="top:1032.64px;font-size:25px;font-weight:400;color:#3c434a;right:146.30px;letter-spacing:0.023px;-webkit-text-stroke:0.3px #3c434a;">Remaining</div>
<div class="t" style="top:1073.63px;font-size:29.5px;font-weight:700;color:#3c434a;left:1900.30px;letter-spacing:0.319px;">$1,072.94</div>
<div class="t" style="top:1073.63px;font-size:29.5px;font-weight:700;color:#e5403f;left:1556.80px;width:1200px;text-align:center;letter-spacing:0.493px;">$357.64</div>
<div class="t" style="top:1073.63px;font-size:29.5px;font-weight:700;color:#3c434a;right:146.30px;letter-spacing:0.793px;">$357.64</div>
<div class="r" style="left:1888px;top:1200px;width:2px;height:240px;background:#c9dcf6"></div>
<svg class="r" style="left:1870.5px;top:1174.2px;" width="35" height="35" viewBox="0 0 35 35"><circle cx="17.5" cy="17.5" r="17.5" fill="#22b455"/><path d="M10 18 L15.5 23.5 L25.5 12.5" fill="none" stroke="#fff" stroke-width="3.4" stroke-linecap="round" stroke-linejoin="round"/></svg>
<div class="t" style="top:1163.48px;font-size:24.6px;font-weight:700;color:#2c3338;left:1921.00px;letter-spacing:0.009px;">Initial Payment</div>
<div class="t" style="top:1200.41px;font-size:22.2px;font-weight:400;color:#8a9399;left:1921.00px;letter-spacing:-0.010px;">January 5, 2026</div>
<div class="t" style="top:1179.57px;font-size:26.5px;font-weight:700;color:#1d2327;right:118.30px;letter-spacing:0.034px;">$357.64</div>
<svg class="r" style="left:1870.5px;top:1257.5px;" width="35" height="35" viewBox="0 0 35 35"><circle cx="17.5" cy="17.5" r="17.5" fill="#22b455"/><path d="M10 18 L15.5 23.5 L25.5 12.5" fill="none" stroke="#fff" stroke-width="3.4" stroke-linecap="round" stroke-linejoin="round"/></svg>
<div class="t" style="top:1246.78px;font-size:24.6px;font-weight:700;color:#2c3338;left:1921.00px;">Payment 2</div>
<div class="t" style="top:1283.71px;font-size:22.2px;font-weight:400;color:#8a9399;left:1921.00px;letter-spacing:0.023px;">February 22, 2026</div>
<div class="t" style="top:1262.87px;font-size:26.5px;font-weight:700;color:#1d2327;right:118.30px;letter-spacing:0.034px;">$357.64</div>
<svg class="r" style="left:1870.5px;top:1340.8px;" width="35" height="35" viewBox="0 0 35 35"><circle cx="17.5" cy="17.5" r="17.5" fill="#f8b224"/><circle cx="17.5" cy="17.5" r="10.5" fill="none" stroke="#fff" stroke-width="2"/><path d="M17.5 12 V18.5" stroke="#fff" stroke-width="2.4" stroke-linecap="round"/><circle cx="17.5" cy="22.3" r="1.4" fill="#fff"/></svg>
<div class="t" style="top:1330.08px;font-size:24.6px;font-weight:700;color:#2c3338;left:1921.00px;">Payment 3</div>
<div class="t" style="top:1367.01px;font-size:22.2px;font-weight:400;color:#8a9399;left:1921.00px;">April 11, 2026</div>
<div class="t" style="top:1346.17px;font-size:26.5px;font-weight:700;color:#1d2327;right:118.30px;letter-spacing:0.034px;">$357.64</div>
<svg class="r" style="left:1870.5px;top:1425.2px;" width="35" height="35" viewBox="0 0 35 35"><circle cx="17.5" cy="17.5" r="17.5" fill="#22b455"/><path d="M10 18 L15.5 23.5 L25.5 12.5" fill="none" stroke="#fff" stroke-width="3.4" stroke-linecap="round" stroke-linejoin="round"/></svg>
<div class="t" style="top:1414.48px;font-size:24.6px;font-weight:700;color:#2c3338;left:1921.00px;">Payment 4</div>
<div class="t" style="top:1451.41px;font-size:22.2px;font-weight:400;color:#8a9399;left:1921.00px;">May 29, 2026</div>
<div class="t" style="top:1430.57px;font-size:26.5px;font-weight:700;color:#1d2327;right:118.30px;letter-spacing:0.034px;">$357.66</div>
<div class="r" style="left:1820px;top:1569.5px;width:673px;height:81.5px;border:2px solid #1a82ec;border-radius:41px;box-sizing:border-box;background:#fff"></div>
<svg class="r" style="left:1985px;top:1596px;" width="35" height="29" viewBox="0 0 35 29"><g fill="none" stroke="#1a82ec" stroke-width="2.4" stroke-linecap="round" stroke-linejoin="round"><rect x="2" y="2" width="31" height="25" rx="4"/><path d="M3 5 L17.5 15.5 L32 5"/></g></svg>
<div class="t" style="top:1599.87px;font-size:25.2px;font-weight:400;color:#1a82ec;left:2034.80px;letter-spacing:0.035px;-webkit-text-stroke:0.5px #1a82ec;">Resend Purchase Receipt</div>
<svg class="r" style="left:2300px;top:790px;" width="200" height="90" viewBox="0 0 200 90"><defs><filter id="sh" x="-20%" y="-20%" width="140%" height="140%"><feDropShadow dx="0.5" dy="1.5" stdDeviation="1.2" flood-color="#000" flood-opacity=".3"/></filter></defs><path filter="url(#sh)" fill="#ff2600" d="M17.2 67.3 L66.6 16.7 L67.1 34.9 Q115 31 183 7.7 A2.9 2.9 0 0 1 185.6 12.7 Q128 38 76.5 62.8 L87.1 77 Z"/></svg>
</body></html>
